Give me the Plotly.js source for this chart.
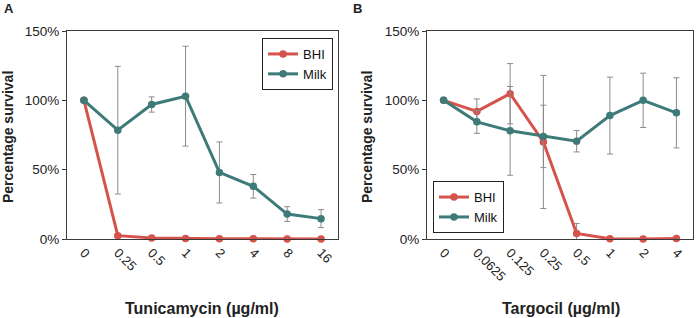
<!DOCTYPE html>
<html><head><meta charset="utf-8">
<script src="https://cdn.plot.ly/plotly-3.0.1.min.js"></script>
<style>html,body{margin:0;padding:0;background:#fff}#chart{width:697px;height:318px}</style>
</head><body><div id="chart"></div>
<script>
// Panel A: Tunicamycin
const tunicamycinDoses = ['0','0.25','0.5','1','2','4','8','16'];
const tunicaBHI = [100, 2.4, 0.8, 0.4, 0.2, 0.2, 0.1, 0.1];
const tunicaMilk = [100, 78.5, 97, 103, 48, 38, 18, 14.7];
const tunicaMilkErr = [0, 46, 5.5, 36, 22, 8.5, 5.3, 6.5];
// Panel B: Targocil
const targocilDoses = ['0','0.0625','0.125','0.25','0.5','1','2','4'];
const targoBHI = [100, 92, 104.8, 70, 4, 0.2, 0.1, 0.3];
const targoBHIErr = [0, 9, 21.7, 48, 7.2, 0, 0, 0];
const targoMilk = [100, 84.5, 78, 74, 70.5, 89, 100, 91];
const targoMilkErr = [0, 8.3, 32, 22.5, 7.7, 27.7, 19.6, 25.3];
const yTicks = [0, 50, 100, 150];

const RED = '#D5534B', TEAL = '#3E7B78', ERR = '#8c8c8c', AX = '#3a3a3a';
const FONT = 'Liberation Sans, Arial, sans-serif';

function tr(x, y, err, name, color, xa, lg, showErr) {
  const t = {x: x, y: y, name: name, type: 'scatter', mode: 'lines+markers',
    line: {color: color, width: 3}, marker: {color: color, size: 7.5},
    xaxis: xa, yaxis: xa === 'x' ? 'y' : 'y2', legend: lg, cliponaxis: false};
  if (showErr) t.error_y = {type: 'data', array: err, visible: true, color: ERR, thickness: 1, width: 3};
  return t;
}
const zeros = tunicaBHI.map(() => 0);
const data = [
  tr(tunicamycinDoses, tunicaBHI, zeros, 'BHI', RED, 'x', 'legend', false),
  tr(tunicamycinDoses, tunicaMilk, tunicaMilkErr, 'Milk', TEAL, 'x', 'legend', true),
  tr(targocilDoses, targoBHI, targoBHIErr, 'BHI', RED, 'x2', 'legend2', true),
  tr(targocilDoses, targoMilk, targoMilkErr, 'Milk', TEAL, 'x2', 'legend2', true)
];

function xax(domain, anchor) {
  return {domain: domain, anchor: anchor, type: 'category', range: [-0.5, 7.5],
    showline: true, mirror: true, linecolor: AX, linewidth: 1, ticks: '',
    tickangle: 45, tickfont: {family: FONT, size: 13, color: '#222'},
    showgrid: false, zeroline: false, fixedrange: true};
}
function yax(anchor) {
  return {domain: [0.2484, 0.9025], anchor: anchor, range: [0, 150],
    tickvals: yTicks, ticktext: yTicks.map(v => v + '%'),
    showline: true, mirror: true, linecolor: AX, linewidth: 1,
    ticks: 'outside', ticklen: 4, tickcolor: AX,
    tickfont: {family: FONT, size: 13.5, color: '#222'},
    showgrid: false, zeroline: false, fixedrange: true};
}
const legStyle = {bgcolor: '#fff', bordercolor: '#222', borderwidth: 1,
  font: {family: FONT, size: 13, color: '#111'}, xanchor: 'left', tracegroupgap: 0};

function ann(text, px, py, size, angle) {
  return {text: text, x: px / 697, y: 1 - py / 318, xref: 'paper', yref: 'paper',
    xanchor: 'center', yanchor: 'middle', textangle: angle || 0, showarrow: false,
    font: {family: FONT, size: size, color: '#222'}};
}

const layout = {
  width: 697, height: 318, margin: {l: 0, r: 0, t: 0, b: 0},
  paper_bgcolor: '#fff', plot_bgcolor: '#fff', font: {family: FONT},
  xaxis: xax([0.0961, 0.4849], 'y'),
  yaxis: yax('x'),
  xaxis2: xax([0.6126, 0.9943], 'y2'),
  yaxis2: yax('x2'),
  legend: Object.assign({}, legStyle, {x: 0.376, y: 0.8805, yanchor: 'top'}),
  legend2: Object.assign({}, legStyle, {x: 0.6212, y: 0.267, yanchor: 'bottom'}),
  annotations: [
    ann('<b>A</b>', 9, 9, 13),
    ann('<b>B</b>', 357, 9, 13),
    ann('<b>Percentage survival</b>', 8, 137, 14, -90),
    ann('<b>Percentage survival</b>', 367, 137, 14, -90),
    ann('<b>Tunicamycin (µg/ml)</b>', 202, 308, 16),
    ann('<b>Targocil (µg/ml)</b>', 561, 308, 16)
  ],
  showlegend: true
};
Plotly.newPlot('chart', data, layout, {staticPlot: true, displayModeBar: false});
</script></body></html>
